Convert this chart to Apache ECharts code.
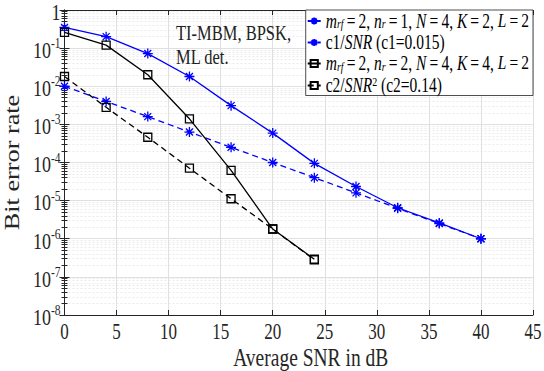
<!DOCTYPE html>
<html><head><meta charset="utf-8">
<script src="https://cdn.jsdelivr.net/npm/echarts@6/dist/echarts.min.js"></script>
<style>html,body{margin:0;padding:0;background:#fff}#c{width:544px;height:371px}</style>
</head><body><div id="c"></div>
<script>
const snr1 = [0,4,8,12,16,20,24,28,32,36,40];
const ber1 = [0.35,0.2,0.072,0.018,0.0031,0.00059,0.000095,0.0000235,0.0000065,0.0000026,0.000001];
const snrC1 = [0,4,8,12,16,20,24,28,32,36,40];
const berC1 = [0.01,0.004,0.0016,0.00063,0.00025,0.0001,0.00004,0.000016,0.0000063,0.0000025,0.000001];
const snr2 = [0,4,8,12,16,20,24];
const ber2 = [0.26,0.12,0.02,0.0014,0.000062,0.0000018,0.00000029];
const snrC2 = [0,4,8,12,16,20,24];
const berC2 = [0.018,0.0028,0.00046,0.000071,0.0000112,0.0000018,0.00000028];
const xTicks = [0,5,10,15,20,25,30,35,40,45];
const legendNames = ['s1','s2','s3','s4'];

const F = "'Liberation Serif', 'Times New Roman', serif";
const star = 'path://M0,5L10,5M5,0L5,10M1.5,1.5L8.5,8.5M1.5,8.5L8.5,1.5';
const pair = (xs, ys) => xs.map((x,i)=>[x, ys[i]]);
const eq = '\u2009=\u2009';
const legendText = {
  s1: '{i|m}{sub|rf}{t|' + eq + '2, }{i|n}{sub|r}{t|' + eq + '1, }{i|N}{t|' + eq + '4, }{i|K}{t|' + eq + '2, }{i|L}{t|' + eq + '2}',
  s2: '{t|c1/}{i|SNR}{t| (c1=0.015)}',
  s3: '{i|m}{sub|rf}{t|' + eq + '2, }{i|n}{sub|r}{t|' + eq + '2, }{i|N}{t|' + eq + '4, }{i|K}{t|' + eq + '4, }{i|L}{t|' + eq + '2}',
  s4: '{t|c2/}{i|SNR}{sup|2}{t| (c2=0.14)}'
};
const chart = echarts.init(document.getElementById('c'), null, {renderer: 'svg'});
const yLab = v => { const e = Math.round(Math.log10(v)); return e === 0 ? '{b|1}' : '{b|10}{s|' + e + '}'; };
const yRich = {
  b: {fontFamily: F, fontSize: 18, color: '#262626', lineHeight: 22, verticalAlign: 'bottom'},
  s: {fontFamily: F, fontSize: 11.5, color: '#262626', lineHeight: 11, verticalAlign: 'top'}
};
chart.setOption({
  animation: false,
  backgroundColor: '#fff',
  textStyle: {fontFamily: F},
  grid: {left: 64.5, right: 11, top: 10, bottom: 56, show: false, outerBoundsMode: 'none', containLabel: false},
  title: {
    text: 'TI-MBM, BPSK,\nML det.', left: 176, top: 21, padding: 0,
    textStyle: {fontFamily: F, fontSize: 16.5, fontWeight: 'normal', color: '#222', lineHeight: 24}
  },
  legend: {
    orient: 'vertical', right: 11, top: 10,
    data: legendNames,
    backgroundColor: '#fff', borderColor: '#222', borderWidth: 0.8, borderRadius: 0,
    padding: [3, 4, 2, 1], itemGap: 5, itemWidth: 13, itemHeight: 9,
    formatter: n => legendText[n],
    textStyle: {
      fontFamily: F, fontSize: 15.5,
      rich: {
        t: {fontFamily: F, fontSize: 15.5, color: '#000', lineHeight: 17},
        i: {fontFamily: F, fontSize: 15.5, fontStyle: 'italic', color: '#000', lineHeight: 17},
        sub: {fontFamily: F, fontSize: 10, fontStyle: 'italic', color: '#000', lineHeight: 8, verticalAlign: 'bottom'},
        sup: {fontFamily: F, fontSize: 10, color: '#000', lineHeight: 10, verticalAlign: 'top'}
      }
    }
  },
  xAxis: [{
    type: 'value', min: 0, max: 45, interval: 5,
    name: 'Average SNR in dB', nameLocation: 'middle', nameGap: 33,
    nameTextStyle: {fontFamily: F, fontSize: 19.5, color: '#262626', padding: [0, 0, 0, 24]},
    axisLine: {lineStyle: {color: '#262626', width: 1}},
    axisTick: {inside: true, length: 5, lineStyle: {color: '#262626'}},
    axisLabel: {fontFamily: F, fontSize: 17, color: '#262626', margin: 8,
      formatter: v => xTicks.includes(v) ? String(v) : ''},
    splitLine: {show: true, lineStyle: {color: '#e0e0e0', width: 1}}
  }, {
    type: 'value', min: 0, max: 45, interval: 5, position: 'top',
    axisLine: {lineStyle: {color: '#262626', width: 1}},
    axisTick: {inside: true, length: 5, lineStyle: {color: '#262626'}},
    axisLabel: {show: false}, splitLine: {show: false}
  }],
  yAxis: [{
    type: 'log', logBase: 10, min: 1e-8, max: 1, splitNumber: 8,
    name: 'Bit error rate', nameLocation: 'middle', nameGap: 40,
    nameTextStyle: {fontFamily: F, fontSize: 21, color: '#262626'},
    axisLine: {show: true, lineStyle: {color: '#262626', width: 1}},
    axisTick: {inside: true, length: 5, lineStyle: {color: '#262626'}},
    minorTick: {show: true, splitNumber: 9, length: 3, lineStyle: {color: '#262626'}},
    minorSplitLine: {show: true, lineStyle: {color: '#ebebeb', type: [2, 2], width: 1}},
    axisLabel: {formatter: yLab, rich: yRich, margin: 4},
    splitLine: {show: true, lineStyle: {color: '#e0e0e0', width: 1}}
  }, {
    type: 'log', logBase: 10, min: 1e-8, max: 1, splitNumber: 8, position: 'right',
    axisLine: {show: true, lineStyle: {color: '#262626', width: 1}},
    axisTick: {inside: true, length: 5, lineStyle: {color: '#262626'}},
    minorTick: {show: true, splitNumber: 9, length: 3, lineStyle: {color: '#262626'}},
    axisLabel: {show: false}, splitLine: {show: false}
  }],
  series: [{
    name: 's1', type: 'line', data: pair(snr1, ber1),
    symbol: star, symbolSize: 10,
    lineStyle: {color: '#0000ff', width: 1.3},
    itemStyle: {color: '#0000ff', borderColor: '#0000ff', borderWidth: 1.3}
  }, {
    name: 's2', type: 'line', data: pair(snrC1, berC1),
    symbol: star, symbolSize: 10,
    lineStyle: {color: '#0000ff', width: 1.3, type: [6, 4]},
    itemStyle: {color: '#0000ff', borderColor: '#0000ff', borderWidth: 1.3}
  }, {
    name: 's3', type: 'line', data: pair(snr2, ber2),
    symbol: 'rect', symbolSize: 8,
    lineStyle: {color: '#000', width: 1.3},
    itemStyle: {color: 'rgba(0,0,0,0)', borderColor: '#000', borderWidth: 1.3}
  }, {
    name: 's4', type: 'line', data: pair(snrC2, berC2),
    symbol: 'rect', symbolSize: 8,
    lineStyle: {color: '#000', width: 1.3, type: [6, 4]},
    itemStyle: {color: 'rgba(0,0,0,0)', borderColor: '#000', borderWidth: 1.3}
  }]
});

// Reference fonts look vertically stretched; reproduce that on the SVG text.
function stretchText() {
  const svg = document.querySelector('#c svg');
  if (!svg) return;
  svg.querySelectorAll('text').forEach(t => {
    if (t.getAttribute('data-st')) return;
    const tr = t.getAttribute('transform') || '';
    const x = parseFloat(t.getAttribute('x') || 0), y = parseFloat(t.getAttribute('y') || 0);
    const m = tr.match(/matrix\(([^)]+)\)/);
    let sx = 1, sy = 1.3;
    let px = x, py = y;
    if (m) {
      const p = m[1].split(/[ ,]+/).map(Number);
      if (Math.abs(p[1]) > 0.5) { sx = 1.25; sy = 1; }
      px = p[0] * x + p[2] * y + p[4];
      py = p[1] * x + p[3] * y + p[5];
    }
    if (sy !== 1) {
      if (px > 295 && py < 106) sy = 1;                 // legend rows
      else if (px > 165 && px < 300 && py < 75) sy = 1.15; // annotation
    }
    if (sx === 1 && sy === 1) { t.setAttribute('data-st', '1'); return; }
    t.setAttribute('transform', (tr + ' translate(' + x + ',' + y + ') scale(' + sx + ',' + sy + ') translate(' + (-x) + ',' + (-y) + ')').trim());
    t.setAttribute('data-st', '1');
  });
}
stretchText();
chart.on('finished', stretchText);
</script></body></html>
